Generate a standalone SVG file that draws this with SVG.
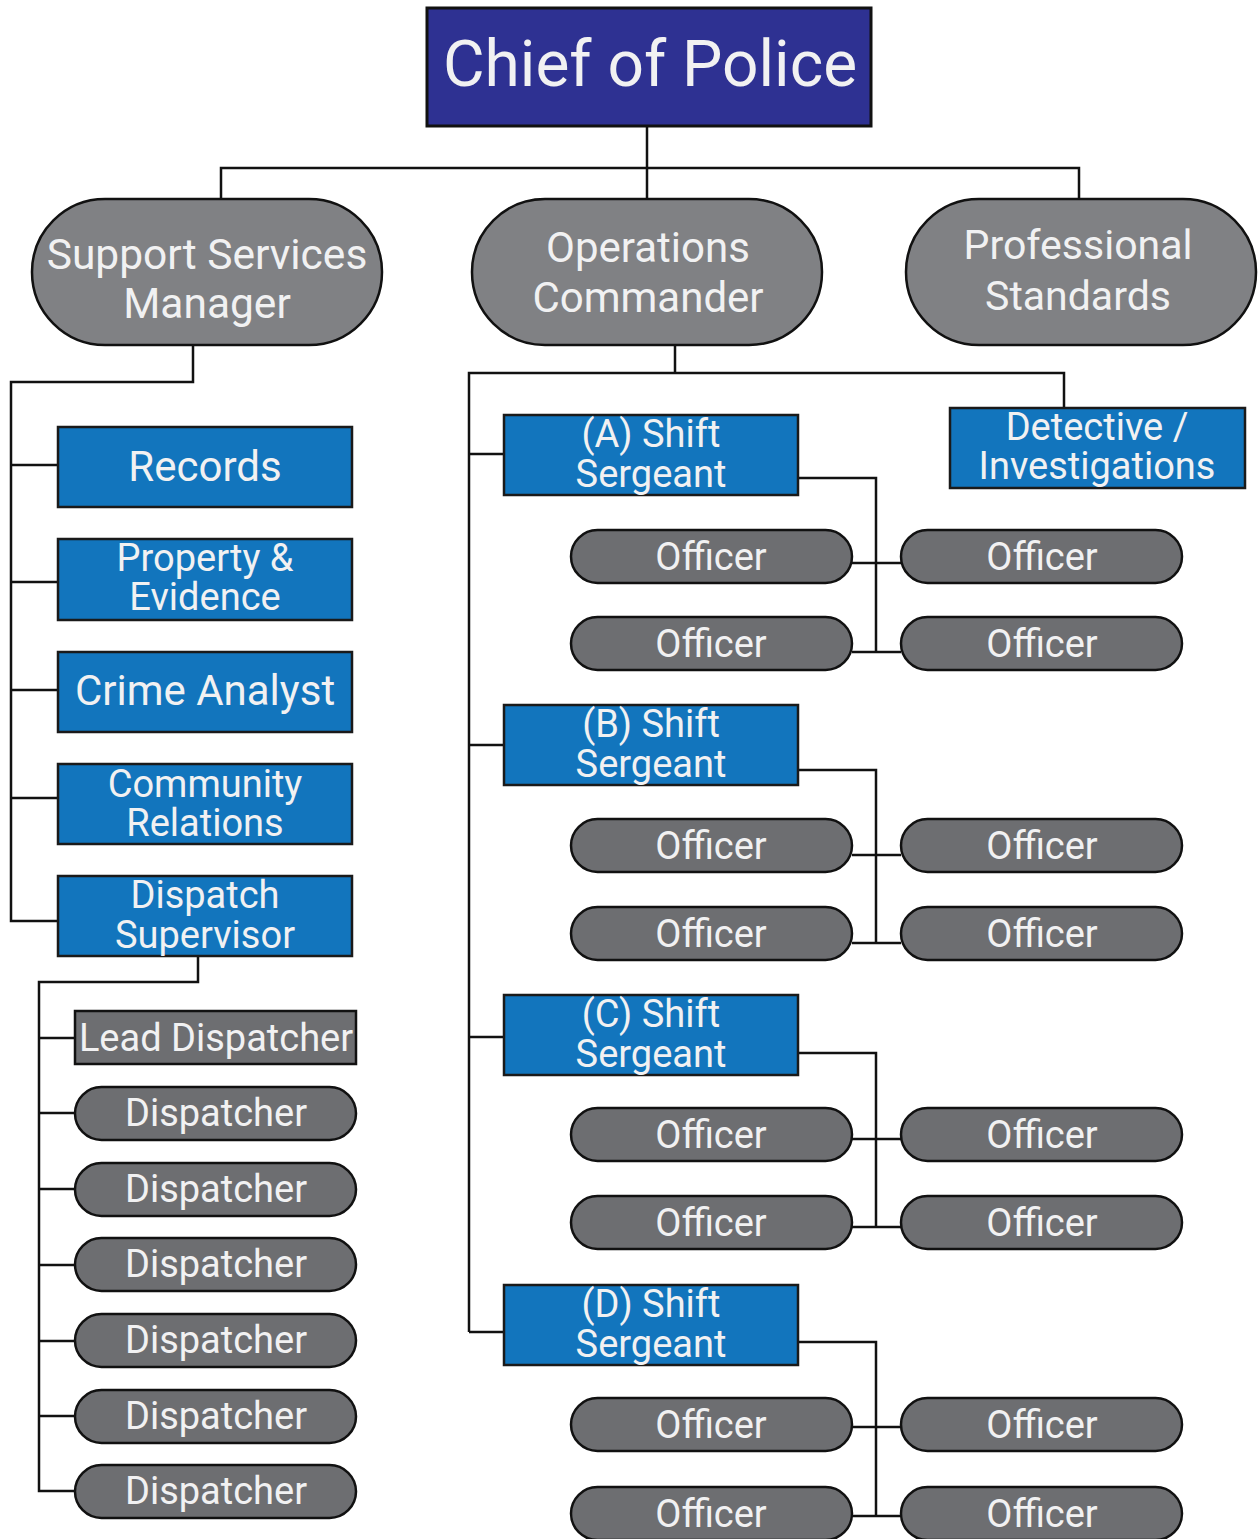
<svg xmlns="http://www.w3.org/2000/svg" width="1260" height="1539" viewBox="0 0 1260 1539">
<style>
text{font-family:Roboto,"Liberation Sans",sans-serif;fill:#f1f1f2;text-anchor:middle}
.chief{fill:#2e3192;stroke:#111;stroke-width:3}
.top{fill:#808184;stroke:#111;stroke-width:2.5}
.blue{fill:#1275bd;stroke:#1a1a1a;stroke-width:2.5}
.gray{fill:#6d6e71;stroke:#111;stroke-width:2.5}
.conn{fill:none;stroke:#111;stroke-width:2.5}
.t40{font-size:41px}.t36{font-size:38px}.t42{font-size:42px}
</style>
<rect width="1260" height="1539" fill="#fff"/>
<g id="connectors" class="conn">
<path d="M647 126V199M221 199V168H1079V199"/>
<path d="M193 345V382H11V921H58M11 465H58M11 582H58M11 690H58M11 798H58"/>
<path d="M198 956V982H39V1491H75M39 1038H75M39 1113H75M39 1189H75M39 1265H75M39 1341H75M39 1416H75"/>
<path d="M675 345V373M469 1332V373H1064V408M469 454H504M469 745H504M469 1037H504M469 1332H504"/>
<path d="M798 478H876V652M852 563H901M852 652H901"/>
<path d="M798 770H876V943M852 855H901M852 943H901"/>
<path d="M798 1053H876V1227M852 1139H901M852 1227H901"/>
<path d="M798 1342H876V1516M852 1427H901M852 1516H901"/>
</g>
<g id="chief"><rect class="chief" x="427" y="8" width="444" height="118"/><text x="650" y="86" font-size="64">Chief of Police</text></g>
<g id="support"><rect class="top" x="32" y="199" width="350" height="146" rx="73"/><text x="207" y="269" font-size="42.5">Support Services</text><text x="207" y="318" font-size="42.5">Manager</text></g>
<g id="operations"><rect class="top" x="472" y="199" width="350" height="146" rx="73"/><text x="648" y="262" font-size="42">Operations</text><text x="648" y="312" font-size="42">Commander</text></g>
<g id="professional"><rect class="top" x="906" y="199" width="350" height="146" rx="73"/><text class="t40" x="1078" y="259">Professional</text><text class="t40" x="1078" y="310">Standards</text></g>
<g id="records"><rect class="blue" x="58" y="427" width="294" height="80"/><text class="t42" x="205" y="481">Records</text></g>
<g id="property"><rect class="blue" x="58" y="539" width="294" height="81"/><text class="t36" x="205" y="571">Property &amp;</text><text class="t36" x="205" y="610">Evidence</text></g>
<g id="crime"><rect class="blue" x="58" y="652" width="294" height="80"/><text class="t42" x="205" y="705">Crime Analyst</text></g>
<g id="community"><rect class="blue" x="58" y="764" width="294" height="80"/><text class="t36" x="205" y="797">Community</text><text class="t36" x="205" y="836">Relations</text></g>
<g id="dispatch-sup"><rect class="blue" x="58" y="876" width="294" height="80"/><text class="t36" x="205" y="908">Dispatch</text><text class="t36" x="205" y="948">Supervisor</text></g>
<g id="lead"><rect class="gray" x="75" y="1011" width="281" height="53"/><text class="t36" x="216" y="1051">Lead Dispatcher</text></g>
<g id="disp1"><rect class="gray" x="75" y="1087" width="281" height="53" rx="26.5"/><text class="t36" x="216" y="1126">Dispatcher</text></g>
<g id="disp2"><rect class="gray" x="75" y="1163" width="281" height="53" rx="26.5"/><text class="t36" x="216" y="1202">Dispatcher</text></g>
<g id="disp3"><rect class="gray" x="75" y="1238" width="281" height="53" rx="26.5"/><text class="t36" x="216" y="1277">Dispatcher</text></g>
<g id="disp4"><rect class="gray" x="75" y="1314" width="281" height="53" rx="26.5"/><text class="t36" x="216" y="1353">Dispatcher</text></g>
<g id="disp5"><rect class="gray" x="75" y="1390" width="281" height="53" rx="26.5"/><text class="t36" x="216" y="1429">Dispatcher</text></g>
<g id="disp6"><rect class="gray" x="75" y="1465" width="281" height="53" rx="26.5"/><text class="t36" x="216" y="1504">Dispatcher</text></g>
<g id="detective"><rect class="blue" x="950" y="408" width="295" height="80"/><text class="t36" x="1097" y="440">Detective /</text><text class="t36" x="1097" y="479">Investigations</text></g>
<g id="sgtA"><rect class="blue" x="504" y="415" width="294" height="80"/><text class="t36" x="651" y="447">(A) Shift</text><text class="t36" x="651" y="487">Sergeant</text></g>
<g id="sgtB"><rect class="blue" x="504" y="705" width="294" height="80"/><text class="t36" x="651" y="737">(B) Shift</text><text class="t36" x="651" y="777">Sergeant</text></g>
<g id="sgtC"><rect class="blue" x="504" y="995" width="294" height="80"/><text class="t36" x="651" y="1027">(C) Shift</text><text class="t36" x="651" y="1067">Sergeant</text></g>
<g id="sgtD"><rect class="blue" x="504" y="1285" width="294" height="80"/><text class="t36" x="651" y="1317">(D) Shift</text><text class="t36" x="651" y="1357">Sergeant</text></g>
<g id="offA1"><rect class="gray" x="571" y="530" width="281" height="53" rx="26.5"/><text class="t36" x="711" y="570">Officer</text></g>
<g id="offA2"><rect class="gray" x="901" y="530" width="281" height="53" rx="26.5"/><text class="t36" x="1042" y="570">Officer</text></g>
<g id="offA3"><rect class="gray" x="571" y="617" width="281" height="53" rx="26.5"/><text class="t36" x="711" y="657">Officer</text></g>
<g id="offA4"><rect class="gray" x="901" y="617" width="281" height="53" rx="26.5"/><text class="t36" x="1042" y="657">Officer</text></g>
<g id="offB1"><rect class="gray" x="571" y="819" width="281" height="53" rx="26.5"/><text class="t36" x="711" y="859">Officer</text></g>
<g id="offB2"><rect class="gray" x="901" y="819" width="281" height="53" rx="26.5"/><text class="t36" x="1042" y="859">Officer</text></g>
<g id="offB3"><rect class="gray" x="571" y="907" width="281" height="53" rx="26.5"/><text class="t36" x="711" y="947">Officer</text></g>
<g id="offB4"><rect class="gray" x="901" y="907" width="281" height="53" rx="26.5"/><text class="t36" x="1042" y="947">Officer</text></g>
<g id="offC1"><rect class="gray" x="571" y="1108" width="281" height="53" rx="26.5"/><text class="t36" x="711" y="1148">Officer</text></g>
<g id="offC2"><rect class="gray" x="901" y="1108" width="281" height="53" rx="26.5"/><text class="t36" x="1042" y="1148">Officer</text></g>
<g id="offC3"><rect class="gray" x="571" y="1196" width="281" height="53" rx="26.5"/><text class="t36" x="711" y="1236">Officer</text></g>
<g id="offC4"><rect class="gray" x="901" y="1196" width="281" height="53" rx="26.5"/><text class="t36" x="1042" y="1236">Officer</text></g>
<g id="offD1"><rect class="gray" x="571" y="1398" width="281" height="53" rx="26.5"/><text class="t36" x="711" y="1438">Officer</text></g>
<g id="offD2"><rect class="gray" x="901" y="1398" width="281" height="53" rx="26.5"/><text class="t36" x="1042" y="1438">Officer</text></g>
<g id="offD3"><rect class="gray" x="571" y="1487" width="281" height="53" rx="26.5"/><text class="t36" x="711" y="1527">Officer</text></g>
<g id="offD4"><rect class="gray" x="901" y="1487" width="281" height="53" rx="26.5"/><text class="t36" x="1042" y="1527">Officer</text></g>
</svg>
